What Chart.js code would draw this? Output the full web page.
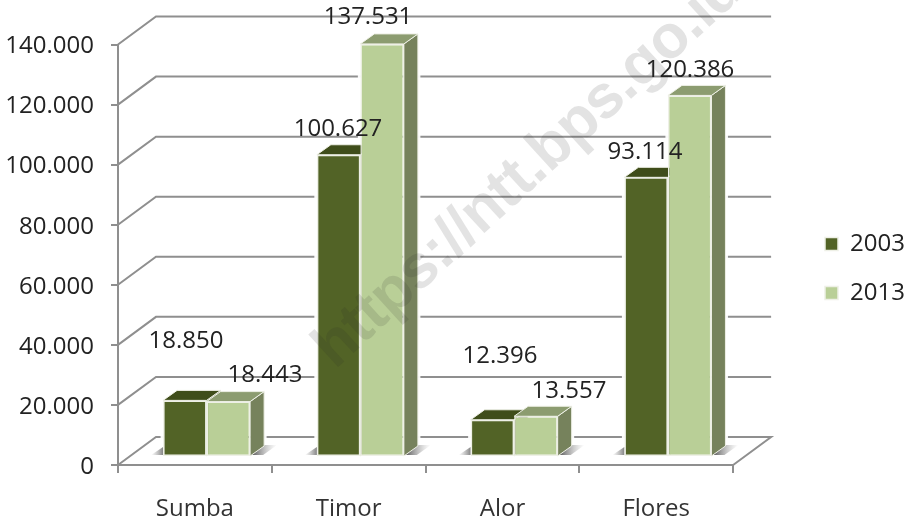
<!DOCTYPE html>
<html>
<head>
<meta charset="utf-8">
<style>html,body{margin:0;padding:0;background:#fff}#w{width:906px;height:521px;position:relative}canvas{display:block}</style>
<script src="https://cdn.jsdelivr.net/npm/chart.js@4/dist/chart.umd.min.js"></script>
</head>
<body>
<div id="w"><canvas id="c" width="906" height="521"></canvas></div>
<script>
const categories = ['Sumba', 'Timor', 'Alor', 'Flores'];
const years = ['2003', '2013'];
const values2003 = [18850, 100627, 12396, 93114];
const values2013 = [18443, 137531, 13557, 120386];
const yMax = 140000;
const yStep = 20000;
const watermark = 'https://ntt.bps.go.id';

const FONT = '"Open Sans", sans-serif';
const FS = 24;
const fmt = v => String(v).replace(/\B(?=(\d{3})+$)/g, '.');

// layout of the pseudo-3D scene, relative to the library's scales
const WALL = {dx: 38, dy: -28};      // depth of the back wall
const SHIFT = {dx: 11.7, dy: -8};    // bars stand part-way into the floor
const DEPTH = {dx: 14, dy: -10};     // depth of each bar
const GRID = '#8f8f8f';
const faces = [
  {front: '#526326', top: '#3f4d1a', side: '#5f6b3c'},
  {front: '#b9cf97', top: '#8c9c70', side: '#76825c'}
];
// hand-placed value label centres, as in the reference
const labelCentres = [
  [[186, 341], [338, 129], [500, 356], [645, 152]],
  [[265, 375], [368, 17], [569, 391], [690, 70]]
];

function poly(ctx, pts, fill) {
  ctx.beginPath();
  pts.forEach((p, i) => i ? ctx.lineTo(p[0], p[1]) : ctx.moveTo(p[0], p[1]));
  ctx.closePath();
  if (fill) { ctx.fillStyle = fill; ctx.fill(); }
}

const scene = {
  id: 'scene',
  afterLayout(chart) {
    const l = chart.legend;
    const w = l.width;
    l.left = 800; l.right = 800 + w;
    const h = l.height;
    l.top = 207; l.bottom = 207 + h;
  },
  beforeDatasetsDraw(chart) {
    const {ctx, chartArea: a, scales: {x, y}} = chart;
    ctx.save();
    ctx.strokeStyle = GRID; ctx.lineWidth = 2; ctx.lineJoin = 'miter';
    y.ticks.forEach(t => {
      const py = y.getPixelForValue(t.value);
      ctx.beginPath();
      ctx.moveTo(a.left, py);
      ctx.lineTo(a.left + WALL.dx, py + WALL.dy);
      ctx.lineTo(a.right + WALL.dx, py + WALL.dy);
      if (t.value === 0) ctx.lineTo(a.right, py);
      ctx.stroke();
    });
    const m0 = chart.getDatasetMeta(0), m1 = chart.getDatasetMeta(1);
    m0.data.forEach((bar0, i) => {
      const bar1 = m1.data[i];
      const L = bar0.x - bar0.width / 2 + SHIFT.dx;
      const R = bar1.x + bar1.width / 2 + SHIFT.dx;
      const B = bar0.base + SHIFT.dy;
      [[m0, 0], [m1, 1]].forEach(([m, d]) => {
        const b = m.data[i];
        const l = b.x - b.width / 2 + SHIFT.dx, r = b.x + b.width / 2 + SHIFT.dx;
        const t = b.y + SHIFT.dy, bt = b.base + SHIFT.dy;
        poly(ctx, [[l, bt], [l, t], [l + DEPTH.dx, t + DEPTH.dy], [r + DEPTH.dx, t + DEPTH.dy], [r + DEPTH.dx, bt + DEPTH.dy], [r, bt]]);
        ctx.strokeStyle = 'rgba(255,255,255,.95)'; ctx.lineWidth = 5; ctx.stroke();
      });
      let g = ctx.createLinearGradient(L - 12, 0, L, 0);
      g.addColorStop(0, 'rgba(150,150,150,0)'); g.addColorStop(1, 'rgba(120,120,120,.9)');
      poly(ctx, [[L - 12, B - 1], [L, B - 1], [L, B - 9]], g);
      g = ctx.createLinearGradient(R, 0, R + 27, 0);
      g.addColorStop(0, 'rgba(70,70,70,1)'); g.addColorStop(1, 'rgba(170,170,170,0)');
      poly(ctx, [[R, B - 1], [R + 14, B - 11], [R + 27, B - 11], [R + 13, B - 1]], g);
      [[m0, 0], [m1, 1]].forEach(([m, d]) => {
        const b = m.data[i];
        const l = b.x - b.width / 2 + SHIFT.dx, r = b.x + b.width / 2 + SHIFT.dx;
        const t = b.y + SHIFT.dy, bt = b.base + SHIFT.dy;
        ctx.strokeStyle = '#eef0e6'; ctx.lineWidth = 1;
        poly(ctx, [[r, t], [r + DEPTH.dx, t + DEPTH.dy], [r + DEPTH.dx, bt + DEPTH.dy], [r, bt]], faces[d].side);
        ctx.stroke();
        poly(ctx, [[l, t], [l + DEPTH.dx, t + DEPTH.dy], [r + DEPTH.dx, t + DEPTH.dy], [r, t]], faces[d].top);
        ctx.stroke();
      });
    });
    ctx.restore();
  },
  beforeDatasetDraw(chart) {
    chart.ctx.save();
    chart.ctx.translate(SHIFT.dx, SHIFT.dy);
  },
  afterDatasetDraw(chart) {
    chart.ctx.restore();
  },
  afterDatasetsDraw(chart) {
    const {ctx} = chart;
    ctx.save();
    ctx.font = FS + 'px ' + FONT;
    ctx.fillStyle = '#222';
    ctx.textAlign = 'center';
    ctx.textBaseline = 'middle';
    chart.data.datasets.forEach((ds, d) => {
      ds.data.forEach((v, i) => {
        const c = labelCentres[d][i];
        ctx.fillText(fmt(v), c[0], c[1]);
      });
    });
    ctx.restore();
  },
  afterDraw(chart) {
    const {ctx} = chart;
    ctx.save();
    ctx.translate(335, 370);
    ctx.rotate(-42.5 * Math.PI / 180);
    ctx.font = 'bold 61px "Liberation Sans", sans-serif';
    ctx.letterSpacing = '-0.6px';
    ctx.fillStyle = 'rgba(40,40,40,.13)';
    ctx.textAlign = 'left';
    ctx.textBaseline = 'alphabetic';
    ctx.fillText(watermark, 0, 0);
    ctx.restore();
  }
};

new Chart(document.getElementById('c'), {
  type: 'bar',
  data: {
    labels: categories,
    datasets: [
      {label: years[0], data: values2003, backgroundColor: faces[0].front, borderColor: '#eef0e6', borderWidth: 1.5, borderSkipped: false},
      {label: years[1], data: values2013, backgroundColor: faces[1].front, borderColor: '#eef0e6', borderWidth: 1.5, borderSkipped: false}
    ]
  },
  plugins: [scene],
  options: {
    responsive: false,
    animation: false,
    events: [],
    layout: {padding: {top: 44.5, right: 58, bottom: 0, left: 0}},
    categoryPercentage: 0.566,
    barPercentage: 1,
    plugins: {
      title: {display: false},
      tooltip: {enabled: false},
      legend: {
        display: true,
        position: 'right',
        align: 'start',
        labels: {boxWidth: 13, boxHeight: 13, padding: 25, color: '#222', font: {family: FONT, size: FS}}
      }
    },
    scales: {
      x: {
        afterFit(s) { s.height = 56; },
        grid: {display: true, drawOnChartArea: false, drawTicks: true, tickLength: 8, color: GRID, lineWidth: 2, offset: true},
        border: {display: true, color: GRID, width: 2},
        ticks: {color: '#333', padding: 22, font: {family: FONT, size: FS}, maxRotation: 0}
      },
      y: {
        min: 0, max: yMax,
        afterFit(s) { s.width = 118; },
        grid: {display: true, drawOnChartArea: false, drawTicks: true, tickLength: 7, color: GRID, lineWidth: 2},
        border: {display: true, color: GRID, width: 2},
        ticks: {stepSize: yStep, color: '#222', padding: 17, labelOffset: 2, font: {family: FONT, size: FS}, callback: v => fmt(v)}
      }
    }
  }
});
</script>
</body>
</html>
